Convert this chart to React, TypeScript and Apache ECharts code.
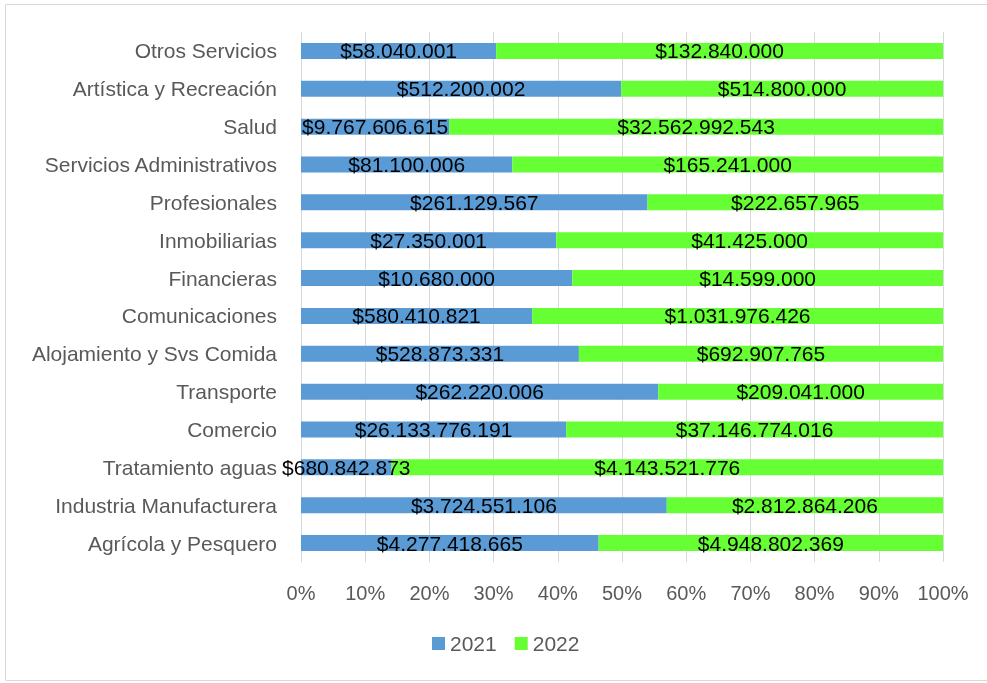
import React, { useEffect, useRef } from "react";
import * as echarts from "echarts";

const categories = [
  "Agrícola y Pesquero",
  "Industria Manufacturera",
  "Tratamiento aguas",
  "Comercio",
  "Transporte",
  "Alojamiento y Svs Comida",
  "Comunicaciones",
  "Financieras",
  "Inmobiliarias",
  "Profesionales",
  "Servicios Administrativos",
  "Salud",
  "Artística y Recreación",
  "Otros Servicios",
];

const values2021 = [
  4277418665, 3724551106, 680842873, 26133776191, 262220006, 528873331,
  580410821, 10680000, 27350001, 261129567, 81100006, 9767606615, 512200002,
  58040001,
];

const values2022 = [
  4948802369, 2812864206, 4143521776, 37146774016, 209041000, 692907765,
  1031976426, 14599000, 41425000, 222657965, 165241000, 32562992543, 514800000,
  132840000,
];

const seriesNames = ["2021", "2022"];

const fmt = (v: number) =>
  "$" + String(Math.round(v)).replace(/\B(?=(\d{3})+(?!\d))/g, ".");

export default function App() {
  const ref = useRef<HTMLDivElement>(null);
  useEffect(() => {
    if (!ref.current) return;
    const chart = echarts.init(ref.current, null, { renderer: "svg" });
    const totals = categories.map((_, i) => values2021[i] + values2022[i]);
    const mk = (vals: number[]) =>
      vals.map((v, i) => ({ value: (v / totals[i]) * 100, raw: v }));
    const font = "Liberation Sans";
    const fs = 21;
    chart.setOption({
      animation: false,
      textStyle: { fontFamily: font },
      graphic: [
        {
          type: "rect",
          shape: { x: 5.5, y: 4.5, width: 990, height: 676 },
          style: { fill: "none", stroke: "#d9d9d9", lineWidth: 1 },
          silent: true,
        },
      ],
      grid: { left: 301, right: 44, top: 32, bottom: 121 },
      legend: {
        data: seriesNames,
        bottom: 24,
        left: 427,
        itemWidth: 13,
        itemHeight: 13,
        itemGap: 18,
        icon: "rect",
        textStyle: { fontSize: fs, color: "#595959", fontFamily: font },
      },
      xAxis: {
        type: "value",
        min: 0,
        max: 100,
        interval: 10,
        axisLabel: {
          formatter: "{value}%",
          fontSize: 20,
          color: "#595959",
          margin: 21,
          fontFamily: font,
        },
        axisLine: { show: false },
        axisTick: { show: false },
        splitLine: { lineStyle: { color: "#d9d9d9", width: 1 } },
      },
      yAxis: {
        type: "category",
        data: categories,
        axisLine: { show: false },
        axisTick: { show: false },
        axisLabel: {
          fontSize: fs,
          color: "#595959",
          margin: 24,
          fontFamily: font,
        },
      },
      series: [
        {
          name: seriesNames[0],
          type: "bar",
          stack: "t",
          barWidth: 16,
          data: mk(values2021),
          itemStyle: { color: "#5b9bd5" },
          label: {
            show: true,
            position: "inside",
            color: "#000",
            fontSize: fs,
            fontFamily: font,
            formatter: (p: any) => fmt(p.data.raw),
          },
          labelLayout: { hideOverlap: false },
        },
        {
          name: seriesNames[1],
          type: "bar",
          stack: "t",
          barWidth: 16,
          data: mk(values2022),
          itemStyle: { color: "#66ff33" },
          label: {
            show: true,
            position: "inside",
            color: "#000",
            fontSize: fs,
            fontFamily: font,
            formatter: (p: any) => fmt(p.data.raw),
          },
        },
      ],
    });
    return () => chart.dispose();
  }, []);
  return (
    <div
      ref={ref}
      style={{ position: "fixed", left: 0, top: 0, width: 987, height: 683 }}
    />
  );
}
